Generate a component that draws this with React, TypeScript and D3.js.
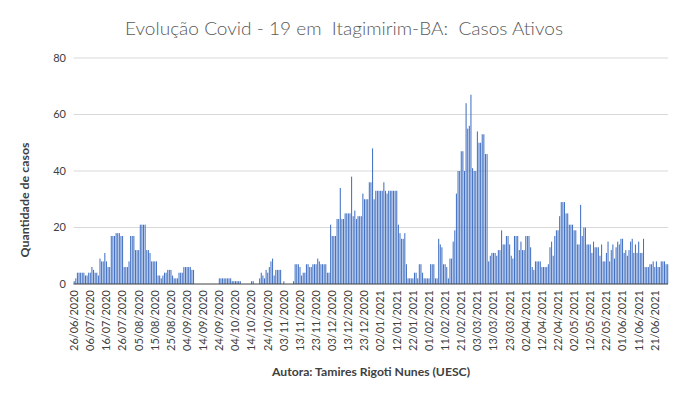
import React from "react";
import * as d3 from "d3";

const TITLE = "Evolução Covid - 19 em  Itagimirim-BA:  Casos Ativos";
const Y_TITLE = "Quantidade de casos";
const AUTHOR = "Autora: Tamires Rigoti Nunes (UESC)";
const START_DATE = "2020-06-26";
const Y_TICKS = [0, 20, 40, 60, 80];

// active cases per day, from 26/06/2020
const activeCases = [
  1, 2, 4, 4, 4, 4, 4, 3, 3, 4,
  4, 6, 5, 4, 4, 3, 9, 8, 8, 11,
  8, 6, 6, 17, 17, 17, 18, 18, 18, 17,
  17, 6, 6, 6, 8, 17, 17, 17, 12, 12,
  12, 21, 21, 21, 21, 12, 12, 11, 8, 8,
  8, 8, 3, 3, 2, 3, 4, 4, 5, 5,
  5, 3, 2, 2, 2, 4, 4, 4, 6, 6,
  6, 6, 6, 5, 5, 0, 0, 0, 0, 0,
  0, 0, 0, 0, 0, 0, 0, 0, 0, 0,
  2, 2, 2, 2, 2, 2, 2, 2, 1, 1,
  1, 1, 1, 1, 0, 0, 0, 0, 0, 0,
  1, 1, 0, 0, 0, 2, 4, 3, 2, 5,
  4, 6, 8, 9, 3, 5, 5, 5, 5, 0,
  1, 0, 0, 0, 0, 0, 1, 7, 7, 7,
  6, 3, 4, 4, 7, 7, 6, 6, 7, 7,
  7, 9, 8, 7, 7, 7, 7, 4, 4, 21,
  17, 17, 17, 23, 23, 34, 23, 23, 25, 25,
  25, 25, 38, 24, 26, 23, 24, 24, 24, 32,
  30, 30, 30, 36, 36, 48, 30, 33, 33, 33,
  33, 33, 36, 33, 32, 33, 33, 33, 33, 33,
  33, 21, 18, 16, 16, 18, 7, 2, 2, 2,
  2, 4, 4, 2, 7, 7, 4, 2, 2, 2,
  2, 7, 7, 7, 2, 2, 16, 14, 13, 7,
  7, 6, 2, 9, 9, 15, 19, 32, 40, 40,
  47, 47, 40, 64, 55, 56, 67, 41, 40, 40,
  54, 50, 50, 53, 53, 46, 46, 8, 10, 11,
  11, 11, 10, 12, 12, 19, 14, 14, 17, 17,
  14, 10, 9, 17, 17, 17, 12, 15, 12, 12,
  17, 17, 17, 13, 6, 5, 8, 8, 8, 8,
  6, 6, 6, 6, 7, 13, 15, 10, 17, 19,
  19, 24, 29, 29, 29, 25, 25, 21, 21, 21,
  19, 19, 14, 14, 28, 17, 20, 20, 14, 14,
  14, 11, 15, 13, 13, 13, 10, 14, 8, 8,
  11, 15, 8, 12, 14, 9, 13, 15, 14, 16,
  16, 11, 12, 10, 12, 15, 16, 11, 14, 11,
  15, 11, 11, 16, 6, 6, 6, 7, 7, 8,
  6, 8, 6, 6, 8, 8, 8, 7, 7, 0,
];

const W = 688;
const H = 398;
const M = { left: 73.5, right: 670, top: 58, bottom: 284 };

export default function App() {
  const parse = d3.timeParse("%Y-%m-%d");
  const fmt = d3.timeFormat("%d/%m/%Y");
  const start = parse(START_DATE) as Date;
  const dates = activeCases.map((_, i) => fmt(d3.timeDay.offset(start, i)));

  const x = d3
    .scaleBand<number>()
    .domain(d3.range(activeCases.length))
    .range([M.left, M.right])
    .paddingInner(0.35)
    .paddingOuter(0.1);
  const y = d3.scaleLinear().domain([0, 80]).range([M.bottom, M.top]);

  const font = "Lato, 'Open Sans', sans-serif";
  const tickIdx = d3.range(0, activeCases.length, 10);

  return (
    <div style={{ position: "fixed", left: 0, top: 0 }}>
      <svg width={W} height={H} style={{ display: "block", background: "#fff" }}>
        <text
          x={344}
          y={35}
          textAnchor="middle"
          fontFamily={font}
          fontSize={18}
          fontWeight={300}
          fill="#595959"
          textLength={438}
          lengthAdjust="spacingAndGlyphs"
          style={{ whiteSpace: "pre" }}
        >
          {TITLE}
        </text>
        {Y_TICKS.map((t) => (
          <g key={t}>
            {t > 0 && (
              <line x1={M.left} x2={M.right - 2} y1={y(t)} y2={y(t)} stroke="#d9d9d9" strokeWidth={1} />
            )}
            <text x={66} y={y(t)} dy="0.35em" textAnchor="end" fontFamily={font} fontSize={11} fill="#404040">
              {t}
            </text>
          </g>
        ))}
        {activeCases.map((v, i) =>
          v > 0 ? (
            <rect
              key={i}
              x={x(i)}
              y={y(v)}
              width={x.bandwidth()}
              height={y(0) - y(v)}
              fill="#4472c4"
            />
          ) : null
        )}
        <line x1={M.left} x2={M.right - 2} y1={y(0)} y2={y(0)} stroke="#404040" strokeWidth={1} />
        {tickIdx.map((i) => {
          const cx = (x(i) as number) + x.bandwidth() / 2;
          return (
            <text
              key={i}
              transform={`translate(${cx},290) rotate(-90)`}
              textAnchor="end"
              dy="0.35em"
              fontFamily={font}
              fontSize={11}
              fill="#404040"
            >
              {dates[i]}
            </text>
          );
        })}
        <text
          transform="translate(25,200) rotate(-90)"
          textAnchor="middle"
          dy="0.35em"
          fontFamily={font}
          fontSize={11}
          fontWeight="bold"
          fill="#404040"
          textLength={115}
          lengthAdjust="spacingAndGlyphs"
        >
          {Y_TITLE}
        </text>
        <text
          x={371}
          y={376}
          textAnchor="middle"
          fontFamily={font}
          fontSize={11}
          fontWeight="bold"
          fill="#404040"
          textLength={198}
          lengthAdjust="spacingAndGlyphs"
        >
          {AUTHOR}
        </text>
      </svg>
    </div>
  );
}
